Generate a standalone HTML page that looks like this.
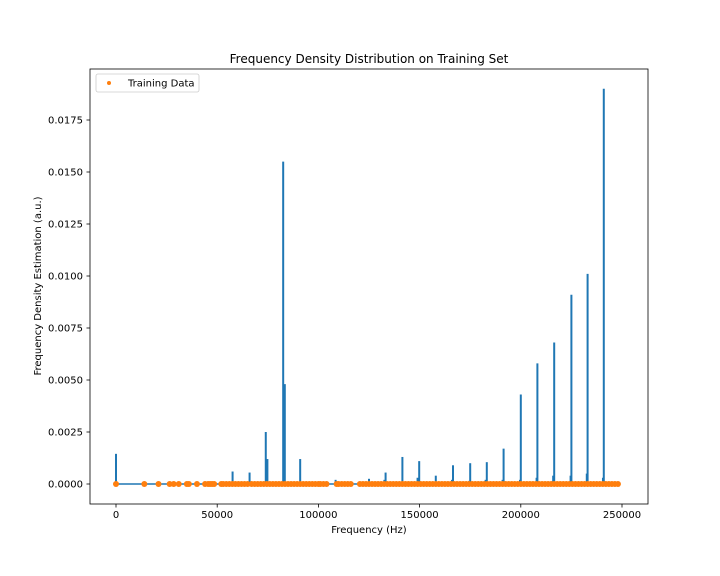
<!DOCTYPE html>
<html><head><meta charset="utf-8"><style>
body{margin:0;background:#fff}
svg{display:block;font-family:"DejaVu Sans","Liberation Sans",sans-serif}
</style></head><body>
<svg id="chart" width="720" height="576" viewBox="0 0 720 576">
<rect width="720" height="576" fill="#fff"/>
<text x="369" y="63" text-anchor="middle" font-size="12">Frequency Density Distribution on Training Set</text>
<g id="plot"></g>
<rect x="90" y="69" width="558" height="435" fill="none" stroke="#000" stroke-width="0.8"/>
<g id="xticks"></g><g id="yticks"></g>
<text x="369" y="533" text-anchor="middle" font-size="10">Frequency (Hz)</text>
<text transform="translate(41,286) rotate(-90)" text-anchor="middle" font-size="10">Frequency Density Estimation (a.u.)</text>
<g>
<rect x="96" y="74" width="103" height="18" rx="2" fill="#fff" stroke="#ccc" stroke-width="0.8"/>
<circle cx="109" cy="83" r="2" fill="#ff7f0e"/>
<text x="128" y="86.5" font-size="10">Training Data</text>
</g>
</svg>
<script>
const peakFreqs=[0,57600,58400,66000,74000,74800,82600,83400,91000,100000,108500,125000,132600,133200,141500,149000,149800,158000,166000,166500,174500,175000,182600,183200,191000,191500,199600,200000,207800,208200,216000,216500,224600,225000,232600,233000,240600,241000];
const peakVals=[0.00145,0.0006,0.0001,0.00055,0.0025,0.0012,0.0155,0.0048,0.0012,0.0001,0.0002,0.00025,0.0002,0.00055,0.0013,0.0003,0.0011,0.0004,0.0002,0.0009,0.00015,0.001,0.0002,0.00105,0.0002,0.0017,0.0002,0.0043,0.0003,0.0058,0.0004,0.0068,0.0004,0.0091,0.0005,0.0101,0.0003,0.019];
const dotFreqs=[0,14000,21000,26500,28500,31000,35000,36000,40000,44000,45500,46500,47500,48500,52000,53000,54500,56000,57500,59000,60500,62000,63500,65000,67000,68500,70000,71500,73000,74500,76000,77500,79000,80500,82000,83500,85000,86500,88000,89500,91000,92500,94000,95500,97000,98500,100000,101000,102500,104000,109000,110000,111500,113000,114500,116000,120500,122000,123500,125000,126500,128000,129500,131000,132500,134000,135500,137000,138500,140000,141500,143000,144500,146000,147500,149000,150500,152000,153500,155000,156500,158000,159500,161000,162500,164000,165500,167000,168500,170000,171500,173000,174500,176000,177500,179000,180500,182000,183500,185000,186500,188000,189500,191000,192500,194000,195500,197000,198500,200000,201500,203000,204500,206000,207500,209000,210500,212000,213500,215000,216500,218000,219500,221000,222500,224000,225500,227000,228500,230000,231500,233000,234500,236000,237500,239000,240500,242000,243500,245000,246500,248000];
const xTicks=[0,50000,100000,150000,200000,250000];
const yTicks=[0,0.0025,0.005,0.0075,0.01,0.0125,0.015,0.0175];
const yTickLabels=["0.0000","0.0025","0.0050","0.0075","0.0100","0.0125","0.0150","0.0175"];
const NS="http://www.w3.org/2000/svg";
const xs=f=>116+f*(506/250000);
const ys=v=>484-v*(364/0.0175);
const plot=document.getElementById('plot');
function mk(tag,attrs,parent){const e=document.createElementNS(NS,tag);for(const k in attrs)e.setAttribute(k,attrs[k]);parent.appendChild(e);return e;}
let base=mk('line',{x1:xs(0),x2:xs(248500),y1:ys(0),y2:ys(0),stroke:'#1f77b4','stroke-width':1.5},plot);


peakFreqs.forEach((f,i)=>{
 const l=mk('line',{x1:xs(f),x2:xs(f),y1:ys(0),y2:ys(peakVals[i]),stroke:'#1f77b4','stroke-width':2},plot);
 
 
});
dotFreqs.forEach(f=>{
 const c=mk('circle',{cx:xs(f),cy:ys(0),r:3,fill:'#ff7f0e'},plot);
 
 
});
const xg=document.getElementById('xticks');
xTicks.forEach(t=>{
 const g=mk('g',{},xg);
 
 
 mk('line',{x1:xs(t),x2:xs(t),y1:504,y2:507.5,stroke:'#000','stroke-width':0.8},g);
 const tx=mk('text',{x:xs(t),y:518,'text-anchor':'middle','font-size':10},g);tx.textContent=t;
});
const yg=document.getElementById('yticks');
yTicks.forEach((t,i)=>{
 const g=mk('g',{},yg);
 
 
 mk('line',{x1:86.5,x2:90,y1:ys(t),y2:ys(t),stroke:'#000','stroke-width':0.8},g);
 const tx=mk('text',{x:83,y:ys(t)+3.5,'text-anchor':'end','font-size':10},g);tx.textContent=yTickLabels[i];
});
</script>
</body></html>
